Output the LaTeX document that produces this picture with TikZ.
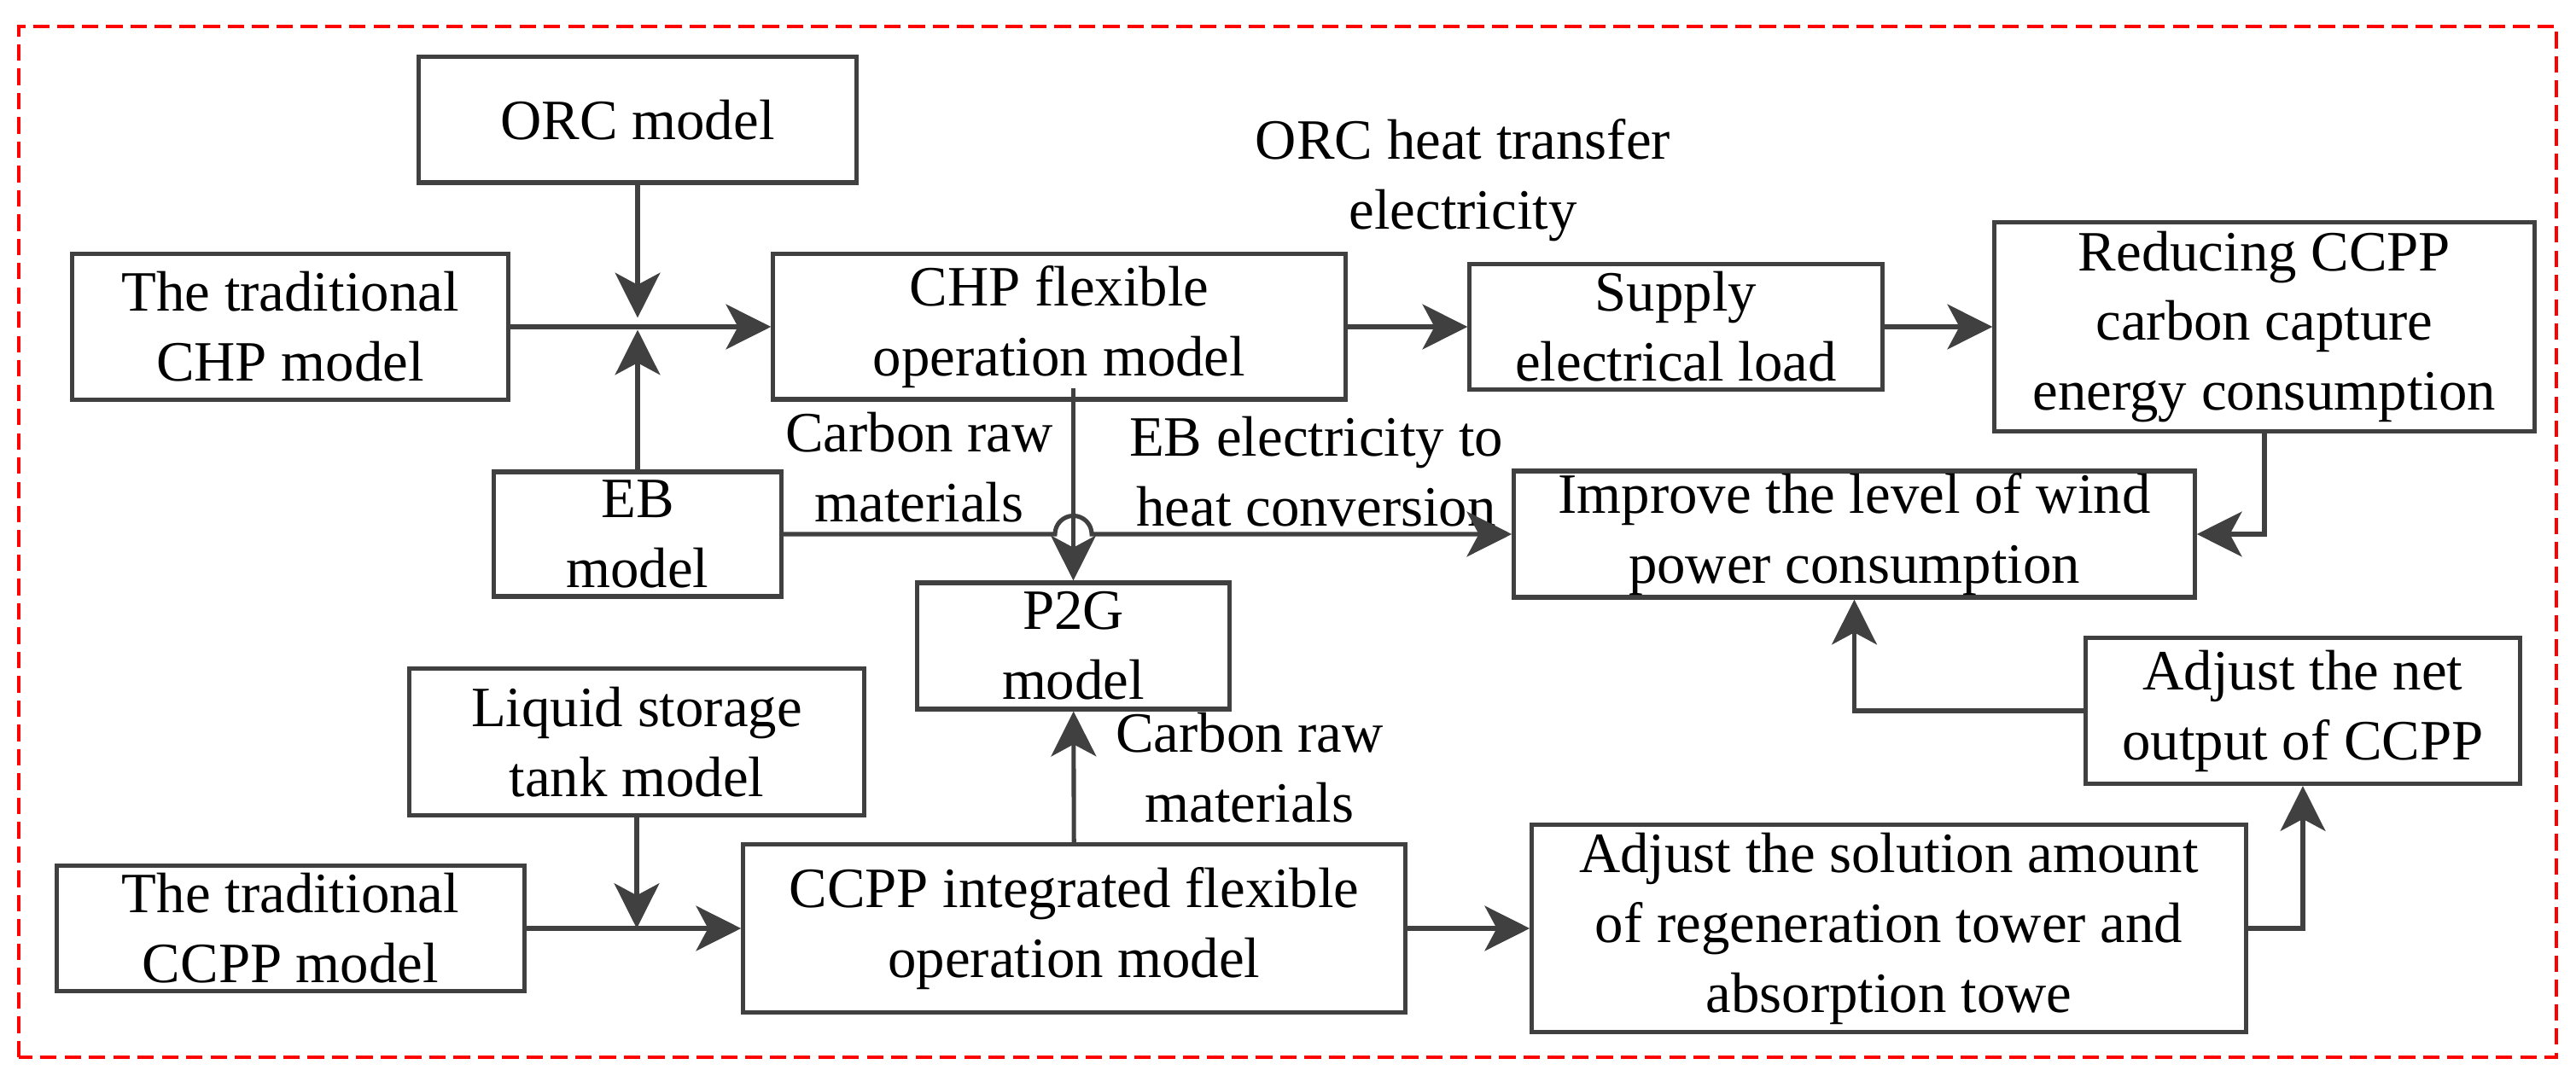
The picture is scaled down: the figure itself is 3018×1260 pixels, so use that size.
\documentclass[tikz,border=0pt]{standalone}
\usepackage{fontspec}
\setmainfont{Liberation Serif}
\usetikzlibrary{arrows.meta}
\definecolor{linegray}{HTML}{404040}

\begin{document}
\begin{tikzpicture}[x=0.01cm,y=0.01cm,>={Stealth[length=15pt,width=15pt,inset=4pt]},
  line width=1.45pt,draw=linegray,
  block node/.style={rectangle,draw=linegray,line width=1.45pt,inner sep=0pt,align=center,
    font=\fontsize{19pt}{23.3pt}\selectfont},
  label node/.style={inner sep=0pt,align=center,font=\fontsize{19pt}{23.3pt}\selectfont}]
  \useasboundingbox (0,0) rectangle (3018,1260);
  \draw[red,line width=1pt,dash pattern=on 5.5pt off 2.6pt] (22,21) rectangle (2995,1229);
  % upper part
  \node[block node,minimum width=5.12cm,minimum height=1.47cm] (orc) at (747,1119.5) {ORC model};
  \node[block node,minimum width=5.10cm,minimum height=1.71cm] (chptrad) at (340,877) {The traditional\\CHP model};
  \node[block node,minimum width=6.70cm,minimum height=1.70cm] (chpflex) at (1241,877) {CHP flexible\\operation model};
  \node[block node,minimum width=4.83cm,minimum height=1.47cm] (supply) at (1963.5,877) {Supply\\electrical load};
  \node[block node,minimum width=6.32cm,minimum height=2.44cm] (reduce) at (2653,877) {Reducing CCPP\\carbon capture\\energy consumption};
  \node[block node,minimum width=3.36cm,minimum height=1.46cm] (eb) at (747,634) {EB\\model};
  \node[block node,minimum width=7.97cm,minimum height=1.48cm] (improve) at (2172.5,634) {Improve the level of wind\\power consumption};
  \node[block node,minimum width=3.65cm,minimum height=1.48cm] (p2g) at (1257.5,503) {P2G\\model};
  % lower part
  \node[block node,minimum width=5.33cm,minimum height=1.71cm] (liquid) at (746,390.5) {Liquid storage\\tank model};
  \node[block node,minimum width=5.47cm,minimum height=1.47cm] (ccpptrad) at (340.5,172) {The traditional\\CCPP model};
  \node[block node,minimum width=7.75cm,minimum height=1.96cm] (ccppint) at (1258.5,172) {CCPP integrated flexible\\operation model};
  \node[block node,minimum width=8.36cm,minimum height=2.43cm] (adjsol) at (2213,172) {Adjust the solution amount\\of regeneration tower and\\absorption towe};
  \node[block node,minimum width=5.08cm,minimum height=1.71cm] (adjnet) at (2698,427) {Adjust the net\\output of CCPP};
  % labels
  \node[label node] (orclab) at (1714,1049) {ORC heat transfer\\electricity};
  \node[label node] (carblab) at (1077,712) {Carbon raw\\materials};
  \node[label node] (eblab) at (1542,707) {EB electricity to\\heat conversion};
  \node[label node] (carblabb) at (1464,360) {Carbon raw\\materials};
  % joints
  \coordinate (jchp) at (747,877);
  \coordinate (jccpp) at (746,172);
  \coordinate (chpcut) at (1257.5,805);
  \coordinate (hopl) at (1236,634);
  \draw[->,shorten >=3pt] (orc.south) -- (jchp);
  \draw[->,shorten >=1pt] (eb.north) -- (jchp);
  \draw[->] (liquid.south) -- (jccpp);
  \draw[->] (chpcut) -- (p2g.north);
  \draw[->] (eb.east) -- (hopl) arc[start angle=180,end angle=0,radius=0.215cm] -- (improve.west);
  \draw[->] (reduce.south) |- (improve.east);
  \draw[->] (adjsol.east) -| (adjnet.south);
  \draw[->] (adjnet.west) -| (improve.south);
  \path[->]
    (chptrad) edge (chpflex)
    (chpflex) edge (supply)
    (supply) edge (reduce)
    (ccpptrad) edge (ccppint)
    (ccppint) edge (p2g)
    (ccppint) edge (adjsol);
\end{tikzpicture}
\end{document}
